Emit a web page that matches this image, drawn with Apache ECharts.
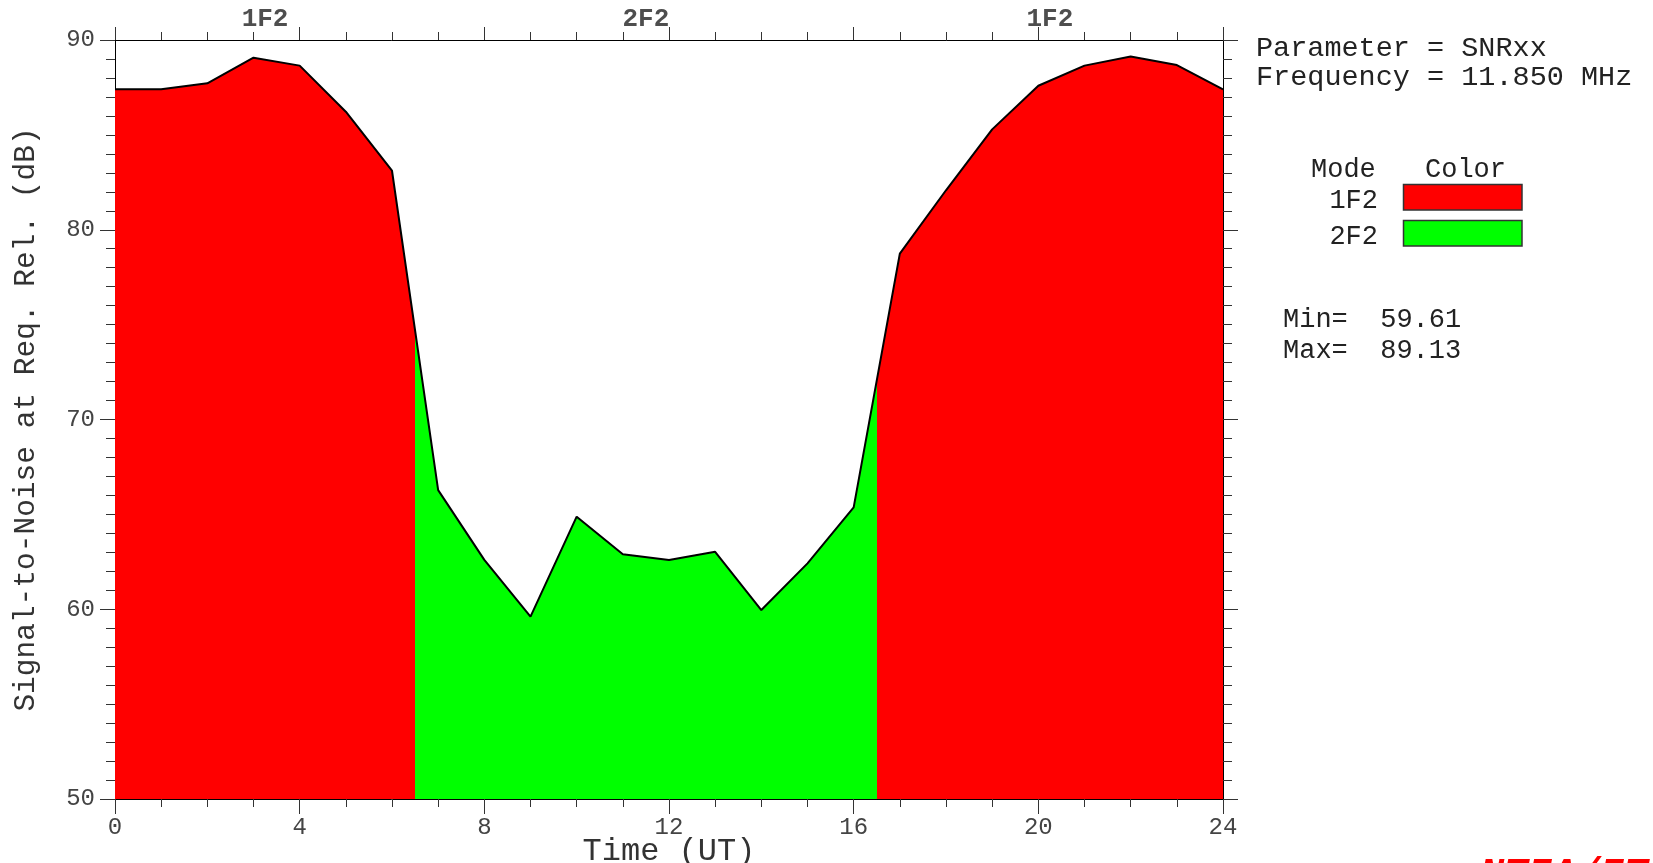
<!DOCTYPE html>
<html>
<head>
<meta charset="utf-8">
<script src="https://cdn.jsdelivr.net/npm/echarts@6/dist/echarts.min.js"></script>
<style>
html,body{margin:0;padding:0;background:#fff;overflow:hidden;}
#chart{width:1653px;height:863px;}
</style>
</head>
<body>
<div id="chart"></div>
<script>
// ---- data ----
const hours = [0,1,2,3,4,5,6,7,8,9,10,11,12,13,14,15,16,17,18,19,20,21,22,23,24];
const snr = [87.40,87.40,87.72,89.07,88.65,86.22,83.11,66.28,62.60,59.61,64.88,62.90,62.60,63.03,59.96,62.42,65.37,78.74,82.08,85.29,87.59,88.65,89.13,88.68,87.40];
const modeNames = ['1F2','2F2','1F2'];
const modeStart = [0, 6.5, 16.5];
const modeEnd = [6.5, 16.5, 24];
const modeColor = {'1F2':'#ff0000','2F2':'#00ff00'};
const legendModes = ['1F2','2F2'];
const xTicks = [0,4,8,12,16,20,24];
const yTicks = [50,60,70,80,90];
const paramText = ['Parameter = SNRxx','Frequency = 11.850 MHz'];
const minText = 'Min=  59.61';
const maxText = 'Max=  89.13';

const MONO = '"Liberation Mono", "Courier New", monospace';
const pts = hours.map((h,i)=>[h, snr[i]]);

const chart = echarts.init(document.getElementById('chart'));

const xCommon = {
  type:'value', min:xTicks[0], max:xTicks[xTicks.length-1], interval:4,
  splitLine:{show:false},
  axisLine:{show:true, onZero:false, lineStyle:{color:'#000', width:1}},
  minorTick:{show:true, splitNumber:4, length:8, lineStyle:{color:'#333', width:1}},
  minorSplitLine:{show:false}
};
const yCommon = {
  type:'value', min:yTicks[0], max:yTicks[yTicks.length-1], interval:10,
  splitLine:{show:false},
  axisLine:{show:true, onZero:false, lineStyle:{color:'#000', width:1}},
  minorTick:{show:true, splitNumber:10, length:9, lineStyle:{color:'#333', width:1}},
  minorSplitLine:{show:false}
};

const graphics = [];
paramText.forEach((t,i)=>{
  graphics.push({type:'text', x:1256, y:[48.7,77][i],
    style:{text:t, font:'28.5px '+MONO, fill:'#222', textAlign:'left', textVerticalAlign:'middle'}});
});
graphics.push({type:'text', x:1311, y:170, style:{text:'Mode', font:'27px '+MONO, fill:'#222', textVerticalAlign:'middle'}});
graphics.push({type:'text', x:1425, y:170, style:{text:'Color', font:'27px '+MONO, fill:'#222', textVerticalAlign:'middle'}});
legendModes.forEach((m,i)=>{
  graphics.push({type:'text', x:1378, y:[201,236.5][i], style:{text:m, font:'27px '+MONO, fill:'#222', textAlign:'right', textVerticalAlign:'middle'}});
  graphics.push({type:'rect', shape:{x:1403.5, y:[184.5,220.5][i], width:118.5, height:25.5},
    style:{fill:modeColor[m], stroke:'#333', lineWidth:1.5}});
});
graphics.push({type:'text', x:1283, y:319.5, style:{text:minText, font:'27px '+MONO, fill:'#222', textVerticalAlign:'middle'}});
graphics.push({type:'text', x:1283, y:351.2, style:{text:maxText, font:'27px '+MONO, fill:'#222', textVerticalAlign:'middle'}});
graphics.push({type:'text', x:1480, y:856, style:{text:'NTIA/ITS', font:'italic bold 40px '+MONO, fill:'#ff0000', textVerticalAlign:'top'}});

const pieces = modeNames.map((m,i)=>{
  const p = {gte:modeStart[i], color:modeColor[m]};
  if (i === modeNames.length-1) p.lte = modeEnd[i]; else p.lt = modeEnd[i];
  return p;
});

chart.setOption({
  animation:false,
  backgroundColor:'#fff',
  grid:{left:115, right:430, top:40, bottom:64, containLabel:false, outerBoundsMode:'none'},
  xAxis:[
    Object.assign({}, xCommon, {
      position:'bottom',
      axisTick:{show:true, length:15, lineStyle:{color:'#333', width:1}},
      axisLabel:{show:true, margin:17, color:'#444', fontFamily:MONO, fontSize:24},
      name:'Time (UT)', nameLocation:'middle', nameGap:53, nameMoveOverlap:false,
      nameTextStyle:{fontFamily:MONO, fontSize:32, color:'#333', verticalAlign:'middle'}
    }),
    Object.assign({}, xCommon, {
      position:'top',
      axisTick:{show:true, length:13, lineStyle:{color:'#333', width:1}},
      axisLabel:{show:false}
    })
  ],
  yAxis:[
    Object.assign({}, yCommon, {
      position:'left',
      axisTick:{show:true, length:15, lineStyle:{color:'#333', width:1}},
      axisLabel:{show:true, margin:20, color:'#444', fontFamily:MONO, fontSize:24},
      name:'Signal-to-Noise at Req. Rel. (dB)', nameLocation:'middle', nameGap:74, nameMoveOverlap:false,
      nameTextStyle:{fontFamily:MONO, fontSize:29.5, color:'#333'}
    }),
    Object.assign({}, yCommon, {
      position:'right',
      axisTick:{show:true, length:15, lineStyle:{color:'#333', width:1}},
      axisLabel:{show:false}
    })
  ],
  visualMap:{show:false, type:'piecewise', dimension:0, seriesIndex:0, pieces:pieces},
  graphic:graphics,
  series:[
    {
      type:'line', data:pts, xAxisIndex:0, yAxisIndex:0,
      showSymbol:false, symbol:'none',
      lineStyle:{width:0},
      areaStyle:{opacity:1, origin:'start'},
      silent:true, z:2
    },
    {
      type:'line', data:pts, xAxisIndex:0, yAxisIndex:0,
      showSymbol:false, symbol:'none',
      lineStyle:{color:'#000', width:2},
      silent:true, z:3
    },
    {
      type:'scatter', xAxisIndex:0, yAxisIndex:0, clip:false,
      symbolSize:1, itemStyle:{color:'transparent'},
      data:modeNames.map((m,i)=>({value:[(modeStart[i]+modeEnd[i])/2, yTicks[yTicks.length-1]], name:m})),
      label:{show:true, position:'top', distance:7, formatter:'{b}',
        fontFamily:MONO, fontWeight:'bold', fontSize:26, color:'#222'},
      silent:true, z:4
    }
  ]
});
</script>
</body>
</html>
